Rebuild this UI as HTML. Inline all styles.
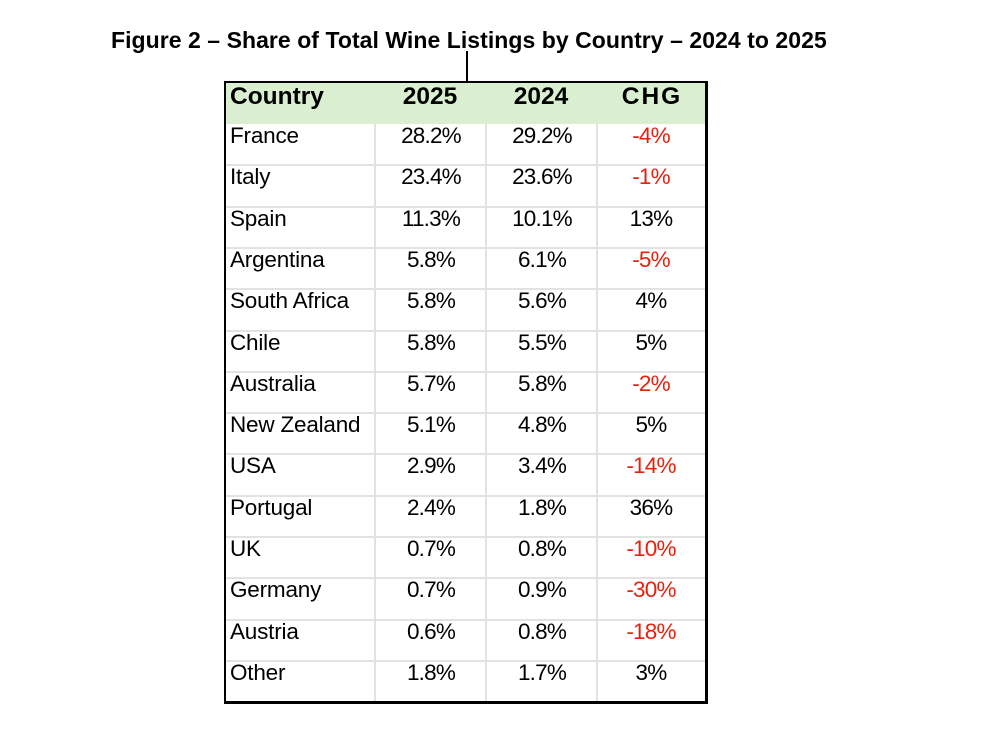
<!DOCTYPE html>
<html><head><style>
body{margin:0;width:1000px;height:739px;background:#fff;position:relative;font-family:"Liberation Sans",Arial,sans-serif;overflow:hidden}
.title{position:absolute;left:111px;top:27px;font-weight:bold;font-size:23px;white-space:nowrap;letter-spacing:0.05px}
.vl{position:absolute;left:466px;top:51px;width:2px;height:31px;background:#000}
.box{position:absolute;left:224px;top:81px;width:479px;height:618px;border:2px solid #000;border-right-width:3px;border-bottom-width:3px}
.hdr{position:absolute;left:0;top:0;width:100%;height:41px;background:#d9efcf}
.hl{position:absolute;left:0;width:100%;height:2px;background:#e2e2e2}
.vc{position:absolute;top:41px;bottom:0;width:2px;background:#e2e2e2}
.t{position:absolute;font-size:22.5px;line-height:41px;letter-spacing:-0.8px;white-space:nowrap}
.c{letter-spacing:-0.2px}
.h{font-weight:bold;font-size:24.5px;letter-spacing:0}
.r{color:#e8210e}
</style></head><body>
<div class="title">Figure 2 – Share of Total Wine Listings by Country – 2024 to 2025</div>
<div class="vl"></div>
<div class="box">
<div class="hdr"></div>
<div class="vc" style="left:148px"></div>
<div class="vc" style="left:259px"></div>
<div class="vc" style="left:370px"></div>
<div id="rows"></div>
</div>
<script>
var d=[["France","28.2%","29.2%","-4%",1],["Italy","23.4%","23.6%","-1%",1],["Spain","11.3%","10.1%","13%",0],["Argentina","5.8%","6.1%","-5%",1],["South Africa","5.8%","5.6%","4%",0],["Chile","5.8%","5.5%","5%",0],["Australia","5.7%","5.8%","-2%",1],["New Zealand","5.1%","4.8%","5%",0],["USA","2.9%","3.4%","-14%",1],["Portugal","2.4%","1.8%","36%",0],["UK","0.7%","0.8%","-10%",1],["Germany","0.7%","0.9%","-30%",1],["Austria","0.6%","0.8%","-18%",1],["Other","1.8%","1.7%","3%",0]];
var h='<div class="t h" style="left:4px;top:-7px">Country</div><div class="t h" style="left:204px;top:-7px;transform:translateX(-50%)">2025</div><div class="t h" style="left:315px;top:-7px;transform:translateX(-50%)">2024</div><div class="t h" style="left:426px;top:-7px;transform:translateX(-50%);letter-spacing:2px">CHG</div>';
d.forEach(function(r,i){var y=41+i*41.3;
if(i>0)h+='<div class="hl" style="top:'+(y-1)+'px"></div>';
h+='<div class="t c" style="left:4px;top:'+(y-9)+'px">'+r[0]+'</div>';
h+='<div class="t" style="left:205px;top:'+(y-9)+'px;transform:translateX(-50%)">'+r[1]+'</div>';
h+='<div class="t" style="left:316px;top:'+(y-9)+'px;transform:translateX(-50%)">'+r[2]+'</div>';
h+='<div class="t'+(r[4]?' r':'')+'" style="left:425px;top:'+(y-9)+'px;transform:translateX(-50%)">'+r[3]+'</div>';});
document.getElementById('rows').innerHTML=h;
</script>
</body></html>
